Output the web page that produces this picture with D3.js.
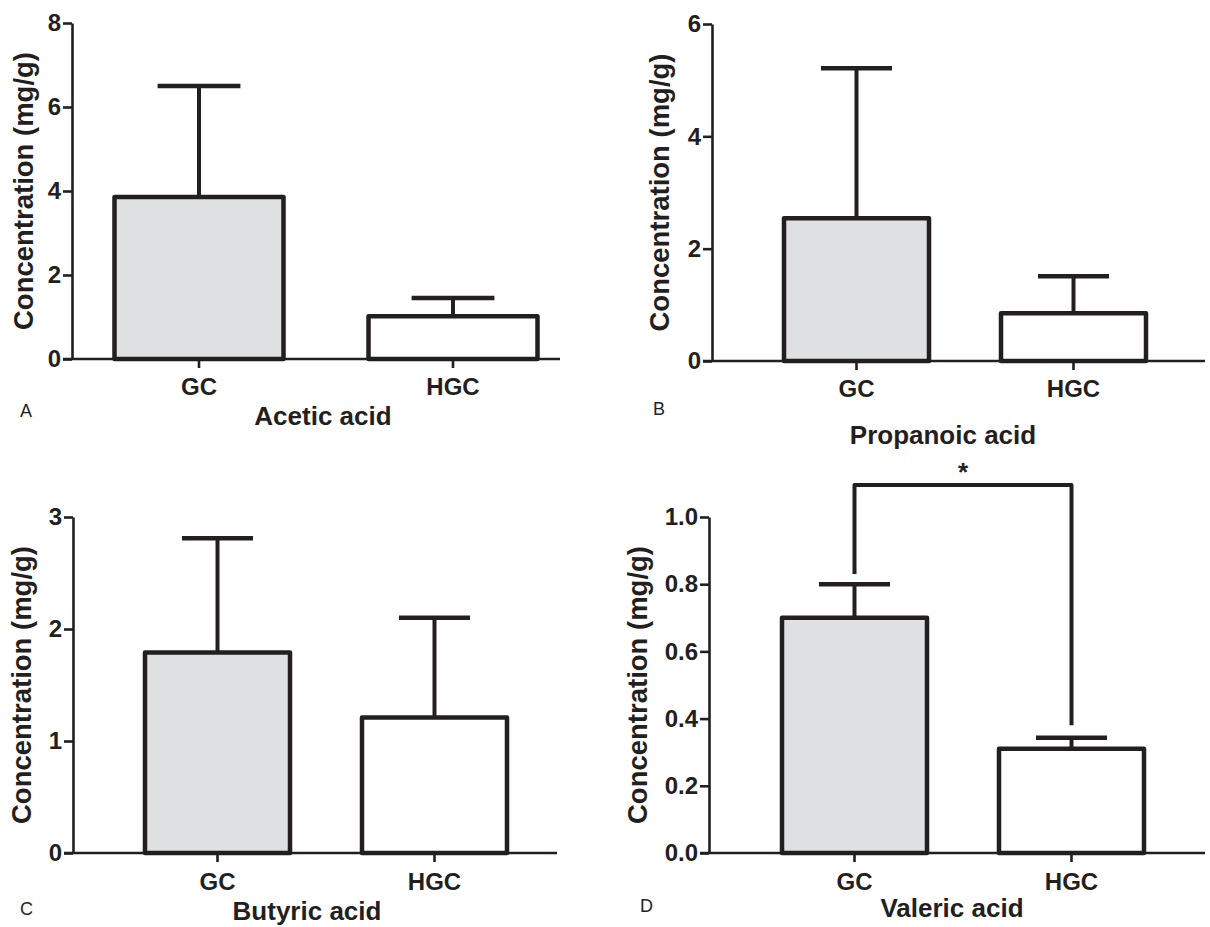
<!DOCTYPE html>
<html>
<head>
<meta charset="utf-8">
<script src="https://cdn.jsdelivr.net/npm/d3@7"></script>
<style>
    body { margin: 0; background: #fff; }
    text { font-family: "Liberation Sans", Arial, Helvetica, sans-serif; fill: #231f20; }
</style>
</head>
<body>
<div id="vis-container"></div>
<script>
// data
const groups = ["GC", "HGC"];
const acids = ["Acetic acid", "Propanoic acid", "Butyric acid", "Valeric acid"];
const panelLetters = ["A", "B", "C", "D"];
const meanValues = [[3.86, 1.02], [2.54, 0.85], [1.79, 1.21], [0.70, 0.31]];
const sdValues = [[2.64, 0.43], [2.67, 0.66], [1.02, 0.89], [0.10, 0.033]];
const yMax = [8, 6, 3, 1.0];
const yTicks = [[0, 2, 4, 6, 8], [0, 2, 4, 6], [0, 1, 2, 3], [0, 0.2, 0.4, 0.6, 0.8, 1.0]];
const tickFormats = ["d", "d", "d", ".1f"];
// significance bracket for valeric acid: top, left leg end, right leg end
const sigBracket = { panel: 3, top: 1.095, leftEnd: 0.83, rightEnd: 0.38, label: "*" };

const width = 1210;
const height = 927;
const ink = "#231f20";
const fills = ["#dfe0e2", "#ffffff"];

// layout per panel (pixels)
const layout = [
    { ax: 72, end: 560, top: 23, bottom: 359, lead: 0, step: 254, barW: 169, ylab: 33, title: [323, 425], letter: [20, 417], cat: 395 },
    { ax: 712, end: 1205, top: 24, bottom: 361, lead: 36, step: 217, barW: 145, ylab: 669, title: [943, 444], letter: [653, 415], cat: 397 },
    { ax: 73, end: 557, top: 517, bottom: 853, lead: 36, step: 217, barW: 145, ylab: 31, title: [307, 920], letter: [20, 915], cat: 890 },
    { ax: 709, end: 1205, top: 517, bottom: 853, lead: 37, step: 217, barW: 145, ylab: 647, title: [952, 917], letter: [640, 912], cat: 890 }
];

const svg = d3.select("#vis-container")
    .append("svg")
    .attr("width", width)
    .attr("height", height)
    .attr("viewBox", [0, 0, width, height]);

acids.forEach((acid, p) => {
    const L = layout[p];
    const g = svg.append("g");

    // scales
    const x = d3.scaleBand()
        .domain(groups)
        .range([L.ax + L.lead, L.ax + L.lead + 2 * L.step])
        .paddingInner(1 - L.barW / L.step)
        .paddingOuter((1 - L.barW / L.step) / 2);

    const y = d3.scaleLinear()
        .domain([0, yMax[p]])
        .range([L.bottom, L.top]);

    // bars
    g.selectAll("rect.bar")
        .data(groups)
        .enter()
        .append("rect")
        .attr("class", "bar")
        .attr("x", (d) => x(d))
        .attr("y", (d, i) => y(meanValues[p][i]))
        .attr("width", x.bandwidth())
        .attr("height", (d, i) => y(0) - y(meanValues[p][i]))
        .attr("fill", (d, i) => fills[i])
        .attr("stroke", ink)
        .attr("stroke-width", 4.5)
        .attr("stroke-linejoin", "round");

    // error bars (upper only)
    const capW = x.bandwidth() * 0.49;
    groups.forEach((grp, i) => {
        const cx = x(grp) + x.bandwidth() / 2;
        const top = y(meanValues[p][i] + sdValues[p][i]);
        g.append("line")
            .attr("x1", cx).attr("x2", cx)
            .attr("y1", y(meanValues[p][i]))
            .attr("y2", top)
            .attr("stroke", ink)
            .attr("stroke-width", 4);
        g.append("line")
            .attr("x1", cx - capW / 2).attr("x2", cx + capW / 2)
            .attr("y1", top).attr("y2", top)
            .attr("stroke", ink)
            .attr("stroke-width", 4.5);
    });

    // y axis
    g.append("g")
        .attr("transform", `translate(${L.ax},0)`)
        .call(d3.axisLeft(y)
            .tickValues(yTicks[p])
            .tickFormat(d3.format(tickFormats[p]))
            .tickSize(9)
            .tickSizeOuter(0)
            .tickPadding(2))
        .call((a) => a.select(".domain").attr("stroke", ink).attr("stroke-width", 2.6))
        .call((a) => a.selectAll(".tick line").attr("stroke", ink).attr("stroke-width", 2.6))
        .call((a) => a.selectAll(".tick text")
            .attr("fill", ink)
            .style("font-size", "24px")
            .style("font-weight", "bold"));

    // x axis: baseline line + ticks under bars
    g.append("line")
        .attr("x1", L.ax - 9).attr("x2", L.end)
        .attr("y1", y(0)).attr("y2", y(0))
        .attr("stroke", ink)
        .attr("stroke-width", 2.6);

    g.append("g")
        .attr("transform", `translate(0,${y(0)})`)
        .call(d3.axisBottom(x).tickSize(9).tickSizeOuter(0).tickFormat(""))
        .call((a) => a.select(".domain").remove())
        .call((a) => a.selectAll(".tick line").attr("stroke", ink).attr("stroke-width", 2.6));

    // category labels
    g.selectAll("text.cat")
        .data(groups)
        .enter()
        .append("text")
        .attr("class", "cat")
        .attr("x", (d) => x(d) + x.bandwidth() / 2)
        .attr("y", L.cat)
        .attr("text-anchor", "middle")
        .style("font-size", "24px")
        .style("font-weight", "bold")
        .text((d) => d);

    // y axis title
    g.append("text")
        .attr("transform", `translate(${L.ylab},${(L.top + L.bottom) / 2}) rotate(-90)`)
        .attr("text-anchor", "middle")
        .style("font-size", "27.5px")
        .style("font-weight", "bold")
        .text("Concentration (mg/g)");

    // acid title
    g.append("text")
        .attr("x", L.title[0])
        .attr("y", L.title[1])
        .attr("text-anchor", "middle")
        .style("font-size", "26px")
        .style("font-weight", "bold")
        .text(acid);

    // panel letter
    g.append("text")
        .attr("x", L.letter[0])
        .attr("y", L.letter[1])
        .style("font-size", "18px")
        .text(panelLetters[p]);

    // significance bracket
    if (p === sigBracket.panel) {
        const x0 = x(groups[0]) + x.bandwidth() / 2;
        const x1 = x(groups[1]) + x.bandwidth() / 2;
        g.append("path")
            .attr("d", `M${x0},${y(sigBracket.leftEnd)}V${y(sigBracket.top)}H${x1}V${y(sigBracket.rightEnd)}`)
            .attr("fill", "none")
            .attr("stroke", ink)
            .attr("stroke-width", 4)
            .attr("stroke-linejoin", "round");
        g.append("text")
            .attr("x", (x0 + x1) / 2)
            .attr("y", y(sigBracket.top) - 4)
            .attr("text-anchor", "middle")
            .style("font-size", "26px")
            .style("font-weight", "bold")
            .text(sigBracket.label);
    }
});
</script>
</body>
</html>
